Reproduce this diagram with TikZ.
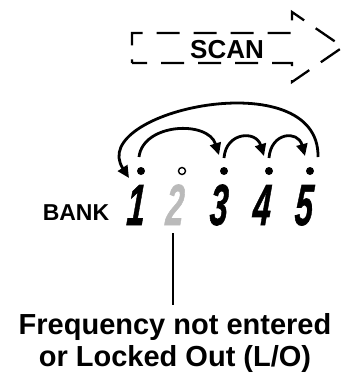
\documentclass[tikz,border=0pt]{standalone}
\usepackage{fontspec}
\setmainfont{Liberation Sans}
\newfontfamily\numfont{Liberation Sans}[BoldItalicFeatures={FakeBold=1.2}]
\usetikzlibrary{arrows.meta, calc}

\begin{document}
\begin{tikzpicture}[x=1pt, y=-1pt,
  dot/.style={circle, fill=black, inner sep=0pt, minimum size=8pt},
  emptydot/.style={circle, draw=black, line width=1.4pt, fill=white, inner sep=0pt, minimum size=7pt},
  digit/.style={font=\numfont\fontsize{58}{58}\selectfont\bfseries\itshape, inner sep=0pt, anchor=base, xscale=0.56, xslant=0.12},
  lbl/.style={font=\fontsize{29}{35}\selectfont\bfseries, inner sep=0pt, anchor=base},
  hop/.style={-{Triangle[length=12pt, width=11pt]}, line width=2.8pt},
  scanline/.style={dash pattern=on 23pt off 14pt, dash phase=8pt, line width=2.3pt},
  lead/.style={line width=1.8pt},
]
  \useasboundingbox (0,0) rectangle (351,373);
  % dashed scan arrow
  \draw[scanline] (132,63) -- (292,63) -- (292,82) -- (343,47) -- (292,12) -- (292,33) -- (132,33) -- cycle;
  \node[font=\fontsize{26}{26}\selectfont\bfseries, inner sep=0pt, anchor=base] (scan) at (227,58) {SCAN};
  % channel numbers
  \node[font=\fontsize{23}{23}\selectfont\bfseries, inner sep=0pt, anchor=base] (bank) at (76,220) {BANK};
  \node[digit] (d1) at (135,225) {1};
  \node[digit, text=black!27] (d2) at (174,225) {2};
  \node[digit] (d3) at (218,225) {3};
  \node[digit] (d4) at (261,225) {4};
  \node[digit] (d5) at (303,225) {5};
  % dots
  \node[dot] (p1) at (141,171) {};
  \node[emptydot] (p2) at (182,171) {};
  \node[dot] (p3) at (224,171) {};
  \node[dot] (p4) at (269,171) {};
  \node[dot] (p5) at (310,171) {};
  % skip arrows
  \draw[hop] ($(p1)+(-2,-14)$) .. controls ($(p1)+(2,-48)$) and ($(p3)+(-16,-51)$) .. ($(p3)+(-5,-16)$);
  \draw[hop] ($(p3)+(0,-13)$) .. controls ($(p3)+(2,-39)$) and ($(p4)+(-13,-41)$) .. ($(p4)+(-5,-15)$);
  \draw[hop] ($(p4)+(0,-13)$) .. controls ($(p4)+(2,-39)$) and ($(p5)+(-12,-41)$) .. ($(p5)+(-5,-15)$);
  \draw[hop] ($(p5)+(8,-14)$) .. controls ($(p5)+(10,-110)$) and ($(p1)+(-55,-60)$) .. ($(p1)+(-12,7)$);
  % note
  \node[lbl] (note1) at (175,334) {Frequency not entered};
  \node[lbl] (note2) at (175,366) {or Locked Out (L/O)};
  \coordinate (leadtop) at ($(d2.south)+(-1,8)$);
  \draw[lead] (leadtop) -- ($(leadtop |- note1.north)+(0,-8)$);
\end{tikzpicture}
\end{document}
